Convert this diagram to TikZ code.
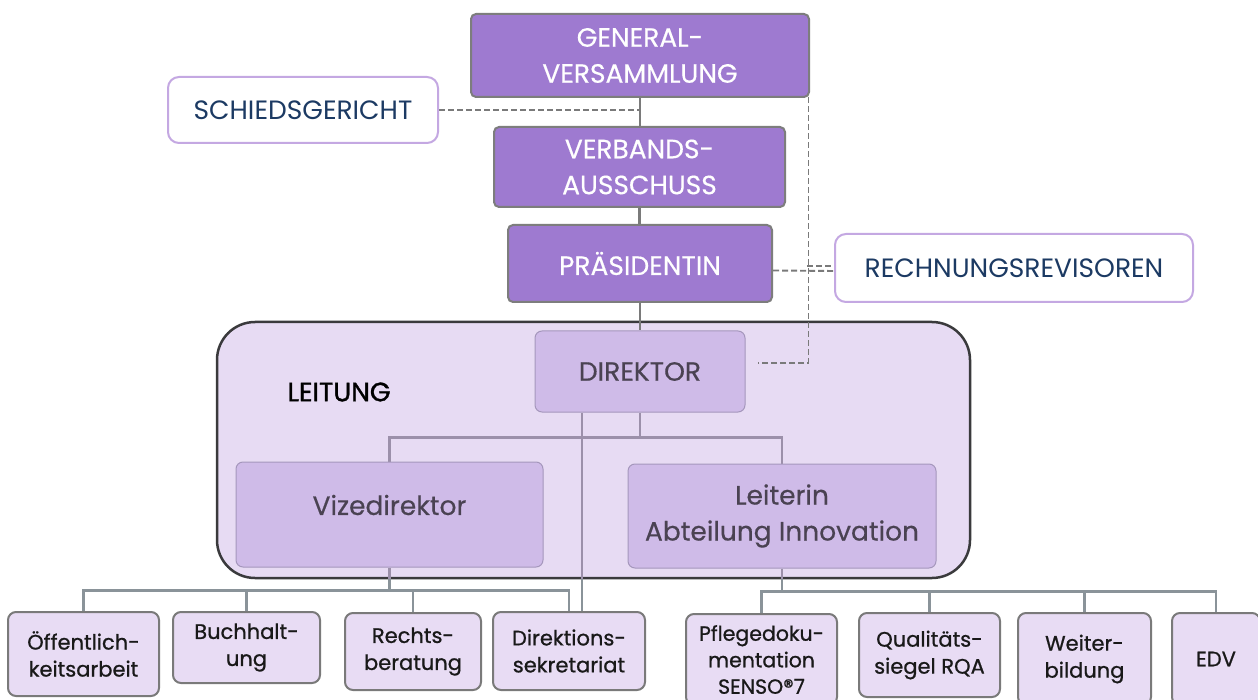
\documentclass[tikz,border=0pt]{standalone}
\usepackage{fontspec}
\setmainfont{Poppins}
\newfontfamily\semifont{Poppins}[FakeBold=0.4]
\newfontfamily\medfont{Poppins}[FakeBold=0.8]
\newfontfamily\boldishfont{Poppins}[FakeBold=1.4]
\usetikzlibrary{calc}
\definecolor{gvfill}{HTML}{9E7AD0}
\definecolor{gvbord}{HTML}{7D7D7D}
\definecolor{sgbord}{HTML}{C4A8E2}
\definecolor{navy}{HTML}{1C3A63}
\definecolor{leitfill}{HTML}{E7DBF3}
\definecolor{leitbord}{HTML}{3A3A3C}
\definecolor{dirfill}{HTML}{CFBBE8}
\definecolor{dirbord}{HTML}{A597BC}
\definecolor{dirtext}{HTML}{4A4252}
\definecolor{botfill}{HTML}{E8DCF4}
\definecolor{botbord}{HTML}{7A7A7A}
\definecolor{conn}{HTML}{7A7A7A}
\definecolor{innerconn}{HTML}{9C90AA}
\definecolor{botconn}{HTML}{8A9399}
\pgfdeclarelayer{bg}
\pgfdeclarelayer{mid}
\pgfsetlayers{bg,mid,main}
\tikzset{
  big/.style={font=\fontsize{26.5}{36}\selectfont},
  bigsemi/.style={font=\semifont\fontsize{26.5}{36}\selectfont},
  small/.style={font=\medfont\fontsize{21}{27}\selectfont},
  topbox/.style={bigsemi, draw=gvbord, line width=2pt, fill=gvfill, rounded corners=5pt, text=white, align=center, inner sep=0pt},
  sidebox/.style={big, draw=sgbord, line width=2pt, fill=white, rounded corners=11pt, text=navy, align=center, inner sep=0pt},
  leitbox/.style={draw=leitbord, line width=2.5pt, fill=leitfill, rounded corners=38pt, inner sep=0pt},
  dirbox/.style={bigsemi, draw=dirbord, line width=1pt, fill=dirfill, rounded corners=7pt, text=dirtext, align=center, inner sep=0pt},
  dirtxt/.style={bigsemi, text=dirtext, inner sep=0pt},
  botbox/.style={small, draw=botbord, line width=2pt, fill=botfill, rounded corners=8pt, text=black!90, align=center, inner sep=0pt},
  solidconn/.style={draw=conn, line width=2.2pt},
  innerline/.style={draw=innerconn, line width=2.2pt},
  botline/.style={draw=botconn, line width=2.2pt},
  dashconn/.style={draw=conn, line width=1.9pt, dash pattern=on 6pt off 3pt},
}
\begin{document}
\begin{tikzpicture}[x=1pt,y=-1pt]
\useasboundingbox (0,0) rectangle (1258,700);

% Leitung frame
\begin{pgfonlayer}{bg}
\fill[white] (0,0) rectangle (1258,700);
\node[leitbox, minimum width=753pt, minimum height=256pt] (leit) at (593.5,450) {};
\end{pgfonlayer}
\node[font=\boldishfont\fontsize{26.5}{36}\selectfont, text=black, inner sep=0pt] (leitt) at (339,392) {LEITUNG};

% top boxes
\node[topbox, minimum width=338pt, minimum height=83pt] (gv) at (640,55.5) {GENERAL-\\VERSAMMLUNG};
\node[topbox, minimum width=291pt, minimum height=80pt] (va) at (639.5,167) {VERBANDS-\\AUSSCHUSS};
\node[topbox, minimum width=264pt, minimum height=77pt] (pr) at (640,263.5) {PRÄSIDENTIN};
\node[sidebox, minimum width=270pt, minimum height=66pt] (sg) at (303,110) {SCHIEDSGERICHT};
\node[sidebox, minimum width=358pt, minimum height=68pt] (rr) at (1014,268) {RECHNUNGSREVISOREN};

% Leitung boxes
\node[dirbox, minimum width=210pt, minimum height=81pt] (dir) at (640,371.5) {DIREKTOR};
\node[dirbox, minimum width=307pt, minimum height=105pt] (viz) at (389.5,514.5) {};
\node[dirtxt] (vizt) at (389.5,505) {Vizedirektor};
\node[dirbox, minimum width=308pt, minimum height=104pt] (lei) at (782,516) {Leiterin\\Abteilung Innovation};

% bottom boxes
\node[botbox, minimum width=151pt, minimum height=84pt] (oeff) at (83.5,654) {Öffentlich-\\keitsarbeit};
\node[botbox, minimum width=147pt, minimum height=71pt] (buch) at (246.5,647.5) {Buchhalt-\\ung};
\node[botbox, minimum width=136pt, minimum height=77pt] (rech) at (413,651.5) {Rechts-\\beratung};
\node[botbox, minimum width=152pt, minimum height=78pt] (dsek) at (569,651) {Direktions-\\sekretariat};
\node[botbox, minimum width=151pt, minimum height=91pt, font=\medfont\fontsize{20.5}{26.5}\selectfont] (pfl) at (761.5,659.5) {Pflegedoku-\\mentation\\SENSO®7};
\node[botbox, minimum width=141pt, minimum height=84pt] (qual) at (929.5,655) {Qualitäts-\\siegel RQA};
\node[botbox, minimum width=133pt, minimum height=92pt] (weit) at (1084.5,659) {Weiter-\\bildung};
\node[botbox, minimum width=88pt, minimum height=92pt] (edv) at (1216,659) {EDV};

\begin{pgfonlayer}{mid}
% top chain
\draw[solidconn] (gv.south) -- (gv.south |- va.north);
\draw[solidconn] (va.south) -- (va.south |- pr.north);
\draw[solidconn] (pr.south) -- (dir.north);
% dashed
\draw[dashconn] (sg.east) -- (sg.east -| gv.south);
\draw[dashconn] ($(gv.south)+(0,-3)$) -| ($(dir.east)+(63,-8.5)$) -- ($(dir.east)+(12,-8.5)$);
\draw[dashconn] ($(pr.east)+(0,7)$) -- ($(rr.west)+(0,3)$);
\draw[dashconn] ($(rr.west)+(-27,-2)$) -- ($(rr.west)+(0,-2)$);
% inside Leitung
\coordinate (dj) at ($(dir.south)+(0,25)$);
\coordinate (dx) at ($(dir.south)+(-58,0)$);
\draw[innerline] (dir.south) -- (dj);
\draw[innerline] (viz.north) |- (dj) -| (lei.north);
\draw[innerline] (dx) -- (dx |- leit.south);
\draw[botline] (dx |- leit.south) -- (dx |- dsek.north);
% left group
\coordinate (vj) at ($(viz.south)+(0,23)$);
\draw[innerline] (viz.south) -- (viz.south |- leit.south);
\draw[botline] (viz.south |- leit.south) -- (vj);
\draw[botline] (oeff.north) |- (vj) -| (dsek.north);
\draw[botline] (buch.north) -- (buch.north |- vj);
\draw[botline] (rech.north) -- (rech.north |- vj);
% right group
\coordinate (lj) at ($(lei.south)+(0,23)$);
\draw[innerline] (lei.south) -- (lei.south |- leit.south);
\draw[botline] (lei.south |- leit.south) -- (lj);
\draw[botline] (pfl.north) |- (lj) -| (edv.north);
\draw[botline] (qual.north) -- (qual.north |- lj);
\draw[botline] (weit.north) -- (weit.north |- lj);
\end{pgfonlayer}
\end{tikzpicture}
\end{document}
